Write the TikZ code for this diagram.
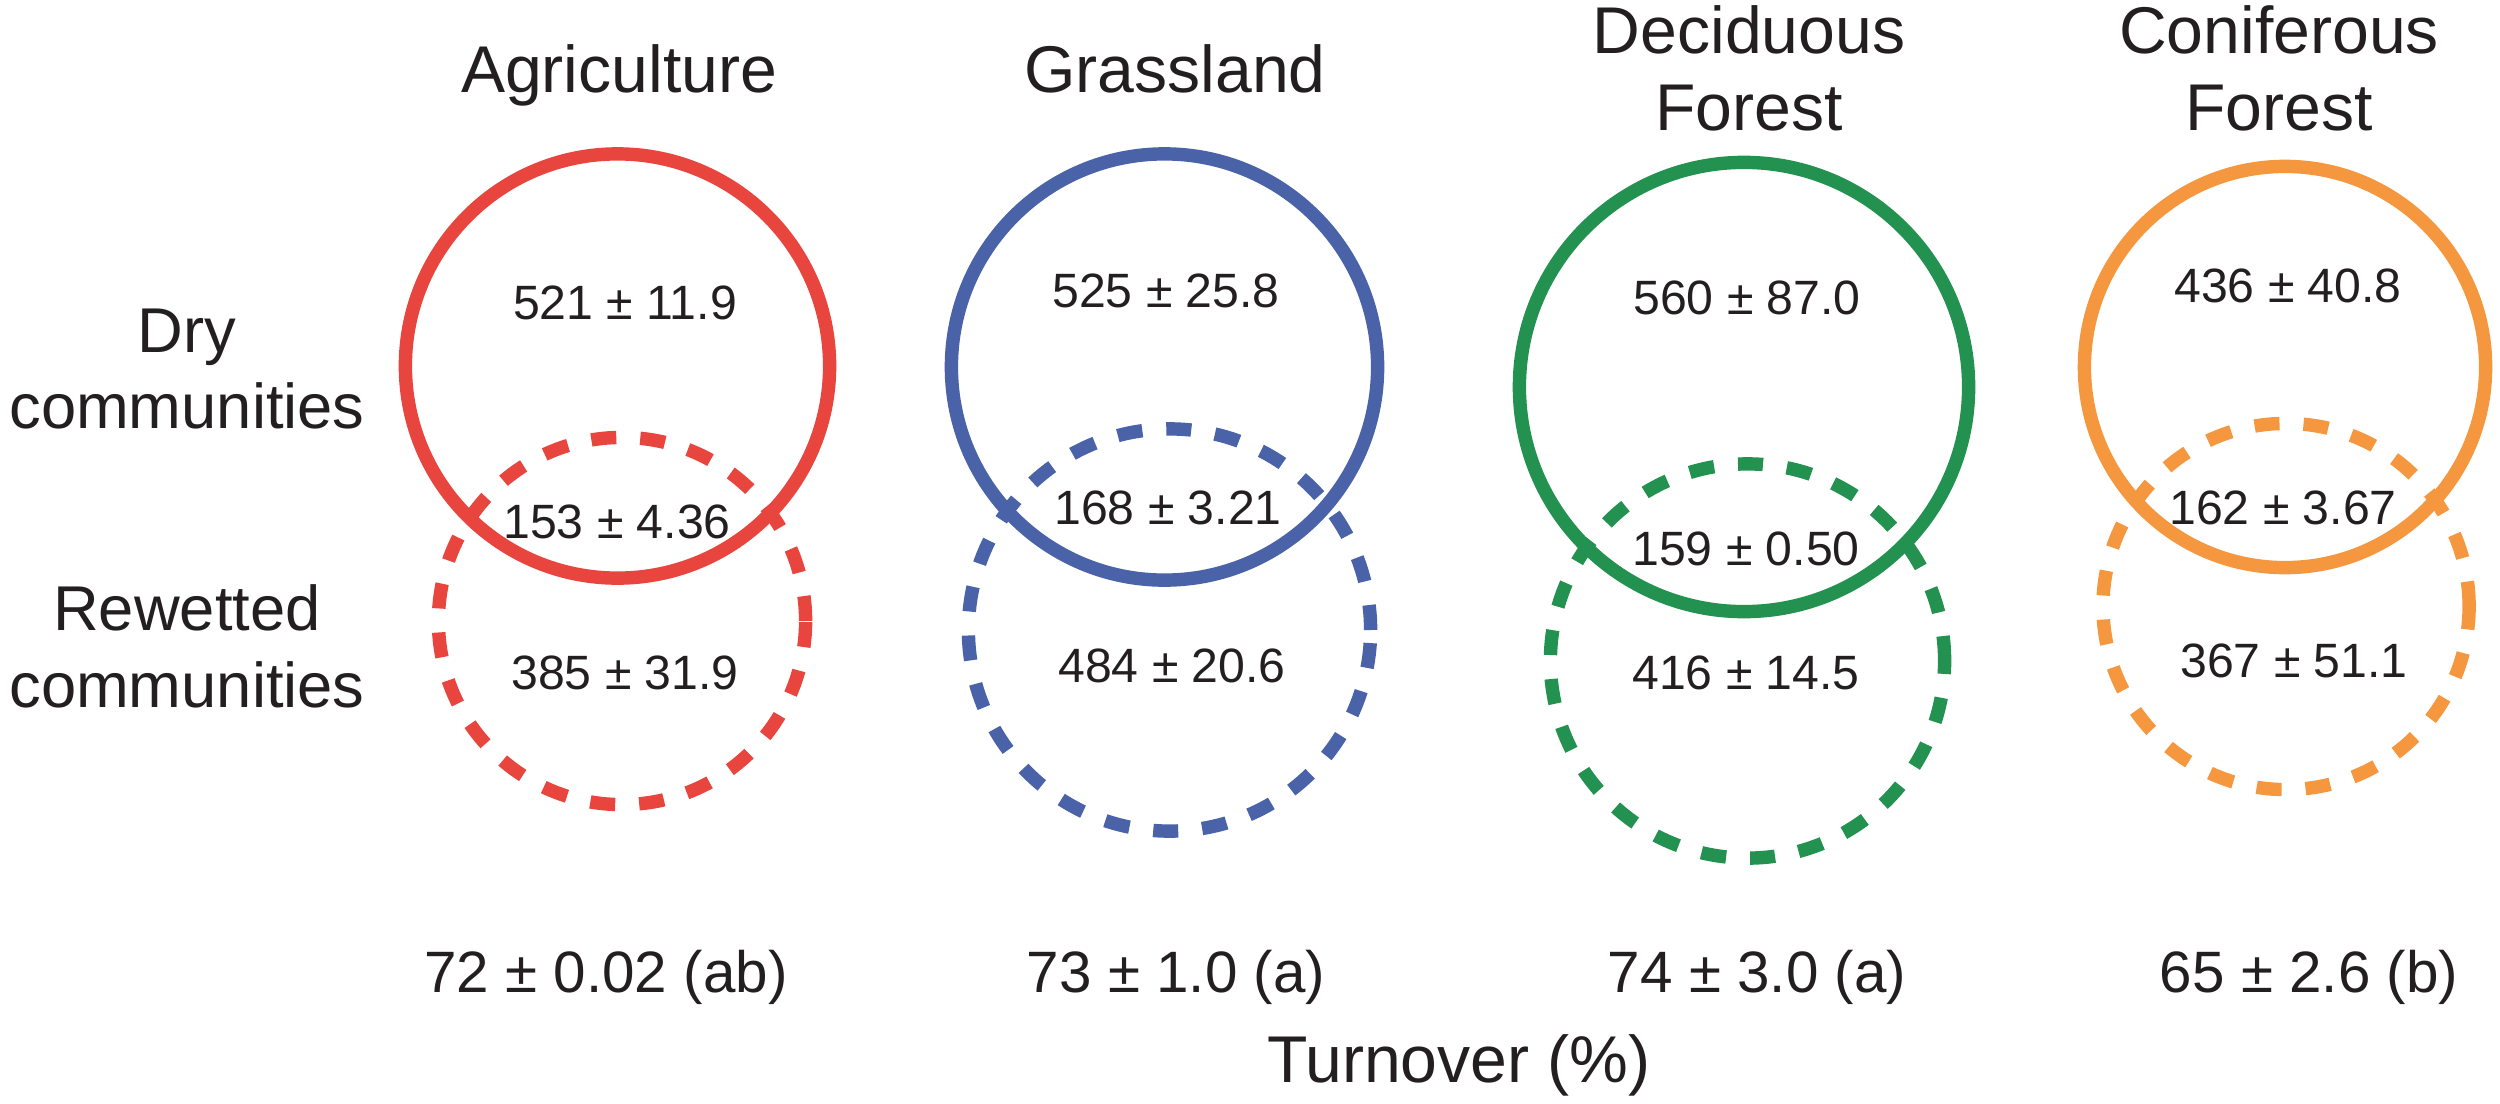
\documentclass[tikz,border=0pt]{standalone}
\usepackage{fontspec}
\setmainfont{Liberation Sans}
\definecolor{agr}{HTML}{E8453F}
\definecolor{gra}{HTML}{4A62A8}
\definecolor{dec}{HTML}{23914F}
\definecolor{con}{HTML}{F4973E}
\definecolor{txt}{HTML}{231F20}
\begin{document}
\begin{tikzpicture}[x=0.01cm,y=-0.01cm,
  ringsolid/.style={circle, draw, line width=0.134cm, inner sep=0pt, outer sep=0pt},
  ringdash/.style={ringsolid, dash pattern=on 0.25cm off 0.24cm},
  titletext/.style={font=\fontsize{18.8}{22}\selectfont, text=txt, anchor=base, inner sep=0pt},
  rowtext/.style={font=\fontsize{18}{22}\selectfont, text=txt, anchor=base, inner sep=0pt},
  num/.style={font=\fontsize{13.7}{16}\selectfont, text=txt, anchor=base, inner sep=0pt},
  turn/.style={font=\fontsize{16.6}{20}\selectfont, text=txt, anchor=base, inner sep=0pt}]
\path[use as bounding box] (0,0) rectangle (2500,1103);

% circles
\node[ringdash, draw=agr, minimum size=3.67cm] (agwet) at (622,621) {};
\node[ringsolid, draw=agr, minimum size=4.24cm] (agdry) at (617.5,366) {};
\node[ringdash, draw=gra, minimum size=4.02cm] (grwet) at (1169.5,630) {};
\node[ringsolid, draw=gra, minimum size=4.26cm] (grdry) at (1164.5,367) {};
\node[ringdash, draw=dec, minimum size=3.94cm] (dewet) at (1747.5,661) {};
\node[ringsolid, draw=dec, minimum size=4.49cm] (dedry) at (1744,387) {};
\node[ringdash, draw=con, minimum size=3.66cm] (cowet) at (2286,606.5) {};
\node[ringsolid, draw=con, minimum size=4.01cm] (codry) at (2285,367) {};

% titles
\node[titletext] (tagr) at (619,92) {Agriculture};
\node[titletext] (tgra) at (1175,92) {Grassland};
\node[titletext] (tdec1) at (1749,53) {Deciduous};
\node[titletext] (tdec2) at (1749,130) {Forest};
\node[titletext] (tcon1) at (2279,53) {Coniferous};
\node[titletext] (tcon2) at (2279,130) {Forest};

% row labels
\node[rowtext] (rdry1) at (187,352) {Dry};
\node[rowtext] (rdry2) at (187,428) {communities};
\node[rowtext] (rwet1) at (187,630) {Rewetted};
\node[rowtext] (rwet2) at (187,707) {communities};

% numbers
\node[num] (agd) at (625,319) {521 ± 11.9};
\node[num] (ago) at (617,538) {153 ± 4.36};
\node[num] (agw) at (625,689) {385 ± 31.9};
\node[num] (grd) at (1166,307) {525 ± 25.8};
\node[num] (gro) at (1168,524) {168 ± 3.21};
\node[num] (grw) at (1172,682) {484 ± 20.6};
\node[num] (ded) at (1747,314) {560 ± 87.0};
\node[num] (deo) at (1746,565) {159 ± 0.50};
\node[num] (dew) at (1746,689) {416 ± 14.5};
\node[num] (cod) at (2288,302) {436 ± 40.8};
\node[num] (coo) at (2283,524) {162 ± 3.67};
\node[num] (cow) at (2294,677) {367 ± 51.1};

% turnover
\node[turn] (uagr) at (606,992) {72 ± 0.02 (ab)};
\node[turn] (ugra) at (1176,992) {73 ± 1.0 (a)};
\node[turn] (udec) at (1757,992) {74 ± 3.0 (a)};
\node[turn] (ucon) at (2309,992) {65 ± 2.6 (b)};
\node[titletext] (ulab) at (1459,1082) {Turnover (\%)};
\end{tikzpicture}
\end{document}
